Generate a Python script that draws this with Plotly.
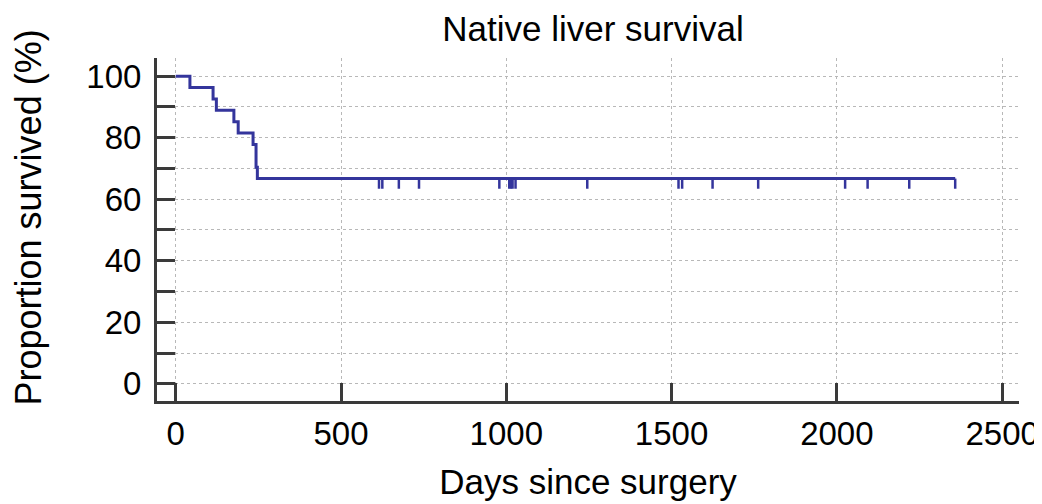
import plotly.graph_objects as go

# Kaplan-Meier step curve
step_days = [0, 43, 113, 123, 176, 189, 234, 243, 247, 2358]
survival_pct = [100, 96.3, 92.6, 88.9, 85.2, 81.5, 77.8, 70.4, 66.7, 66.7]

# Censored observations (days)
censor_days = [615, 625, 675, 736, 979, 1009, 1014, 1019, 1028, 1245,
               1521, 1532, 1624, 1762, 2025, 2093, 2219, 2358]
censor_level = 66.7

x_ticks = [0, 500, 1000, 1500, 2000, 2500]
y_ticks = [0, 20, 40, 60, 80, 100]

title_text = "Native liver survival"
x_title = "Days since surgery"
y_title = "Proportion survived (%)"

line_color = "#34359c"
axis_color = "#3a3a3a"
grid_color = "#b8b8b8"
FONT = "Liberation Sans, Arial, sans-serif"

# the page body adds an 8px offset; figure is sized to fill the rest
W, H = 1034, 496
L, R, T, B = 149, 23, 50, 103

# censor tick marks hang below the curve
tick_drop = 3.3
cx, cy = [], []
for d in censor_days:
    cx += [d, d, None]
    cy += [censor_level, censor_level - tick_drop, None]

fig = go.Figure()
fig.add_trace(go.Scatter(x=step_days, y=survival_pct, mode="lines",
                         line=dict(color=line_color, width=3, shape="hv"),
                         showlegend=False, hoverinfo="skip"))
fig.add_trace(go.Scatter(x=cx, y=cy, mode="lines",
                         line=dict(color=line_color, width=2.5),
                         showlegend=False, hoverinfo="skip"))

fig.update_layout(
    width=W, height=H,
    margin=dict(l=L, r=R, t=T, b=B, autoexpand=False),
    paper_bgcolor="white", plot_bgcolor="white",
    font=dict(family=FONT, color="black"),
    title=dict(text=title_text, x=585 / W, xanchor="center",
               y=1 - 21 / H, yanchor="middle",
               font=dict(size=35, family=FONT)),
    showlegend=False,
)

fig.update_xaxes(
    range=[-56.6, 2551], tickvals=x_ticks, ticktext=[str(v) for v in x_ticks],
    ticks="inside", ticklen=18, tickwidth=3, tickcolor=axis_color,
    showline=True, linewidth=3, linecolor=axis_color,
    showgrid=True, gridcolor=grid_color, griddash="dot", gridwidth=1,
    zeroline=False, tickfont=dict(size=33, family=FONT, color="black"),
    ticklabelstandoff=1, automargin=False,
    title=dict(text=x_title, font=dict(size=35, family=FONT, color="black"), standoff=19),
)
fig.update_yaxes(
    range=[-5.6, 105.9], tickvals=y_ticks, ticktext=[str(v) for v in y_ticks],
    ticks="inside", ticklen=18, tickwidth=3, tickcolor=axis_color,
    showline=True, linewidth=3, linecolor=axis_color,
    showgrid=True, gridcolor=grid_color, griddash="dot", gridwidth=1,
    zeroline=False, tickfont=dict(size=33, family=FONT, color="black"),
    ticklabelstandoff=6, automargin=False,
    minor=dict(dtick=10, tick0=0, ticks="inside", ticklen=18, tickwidth=3,
               tickcolor=axis_color, showgrid=True, gridcolor=grid_color,
               griddash="dot", gridwidth=1),
)

fig.add_annotation(text=y_title, textangle=-90, xref="paper", yref="paper",
                   x=(20 - L) / (W - L - R), y=(401 - 217.5) / (H - T - B),
                   xanchor="center", yanchor="middle", showarrow=False,
                   font=dict(size=36, family=FONT, color="black"))

fig.write_html("out.html")
